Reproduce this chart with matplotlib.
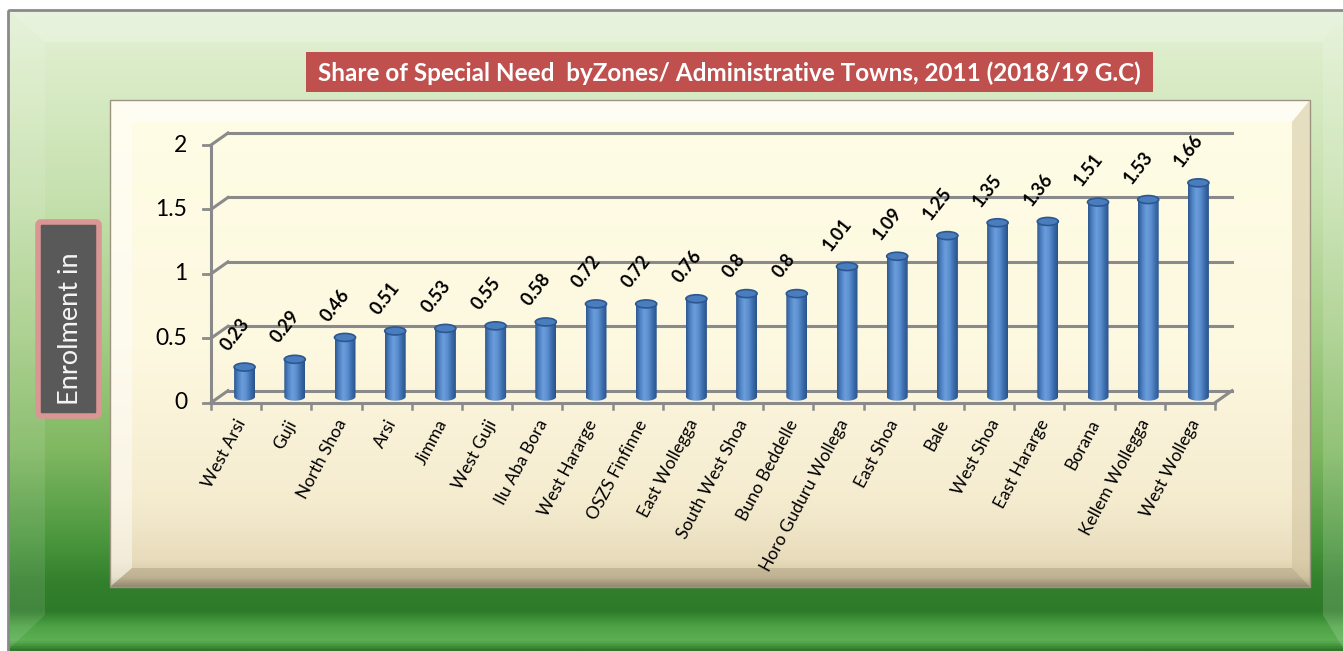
import matplotlib.pyplot as plt
import numpy as np
from matplotlib.patches import Rectangle, Ellipse, Polygon, PathPatch, FancyBboxPatch
from matplotlib.path import Path
from matplotlib.colors import LinearSegmentedColormap

plt.rcParams['font.family'] = ['Lato', 'DejaVu Sans']

# data
zones = ["West Arsi", "Guji", "North Shoa", "Arsi", "Jimma", "West Guji", "Ilu Aba Bora",
         "West Hararge", "OSZS Finfinne", "East Wollegga", "South West Shoa", "Buno Beddelle",
         "Horo Guduru Wollega", "East Shoa", "Bale", "West Shoa", "East Hararge", "Borana",
         "Kellem Wollegga", "West Wollega"]
share = [0.23, 0.29, 0.46, 0.51, 0.53, 0.55, 0.58, 0.72, 0.72, 0.76, 0.8, 0.8,
         1.01, 1.09, 1.25, 1.35, 1.36, 1.51, 1.53, 1.66]
y_ticks = [0, 0.5, 1, 1.5, 2]
y_tick_labels = ["0", "0.5", "1", "1.5", "2"]
title = "Share of Special Need  byZones/ Administrative Towns, 2011 (2018/19 G.C)"
y_label = "Enrolment in"

W, H = 1343, 651
fig = plt.figure(figsize=(W / 100, H / 100), dpi=100)
fig.patch.set_facecolor('white')

# background in pixel coords (y down)
bg = fig.add_axes([0, 0, 1, 1])
bg.set_xlim(0, W)
bg.set_ylim(H, 0)
bg.axis('off')


def vgrad(ax, x0, x1, y0, y1, stops, z):
    # stops given as (pixel y, colour)
    stops = [((y - y0) / (y1 - y0), c) for y, c in stops]
    cmap = LinearSegmentedColormap.from_list('g', stops)
    grad = np.linspace(0, 1, 512).reshape(-1, 1)
    ax.imshow(grad, cmap=cmap, extent=[x0, x1, y1, y0], aspect='auto',
              zorder=z, interpolation='bilinear')


# green frame
green = [(10, '#e4f1d8'), (60, '#dcedca'), (200, '#c5e0ad'), (330, '#a6ce88'),
         (450, '#80b861'), (540, '#4b973e'), (585, '#327f2c'), (612, '#2d7a29'),
         (628, '#4fa446'), (642, '#5cb053'), (651, '#2f7a2a')]
vgrad(bg, 8, W + 5, 10, H, green, 0)
bg.add_patch(Rectangle((8, 10), W, H, fill=False, ec='#8a8a8a', lw=2, zorder=1))
# frame bevels
bg.add_patch(Polygon([(10, 12), (W, 12), (W - 20, 42), (45, 42)], fc='white', alpha=0.2, lw=0, zorder=1))
bg.add_patch(Polygon([(10, 12), (45, 42), (45, 615), (10, 648)], fc='white', alpha=0.1, lw=0, zorder=1))
bg.add_patch(Polygon([(W, 12), (W - 20, 42), (W - 20, 615), (W, 648)], fc='white', alpha=0.15, lw=0, zorder=1))

# cream panel
cream = [(100, '#fffde6'), (350, '#fdf8e0'), (500, '#f5ecd0'), (560, '#e8dcbc'),
         (578, '#d6c9a6'), (587, '#9c9178')]
vgrad(bg, 110, 1310, 100, 587, cream, 2)
bg.add_patch(Polygon([(110, 100), (1310, 100), (1290, 122), (132, 122)], fc='white', alpha=0.6, lw=0, zorder=3))
bg.add_patch(Polygon([(110, 100), (132, 122), (132, 568), (110, 587)], fc='white', alpha=0.45, lw=0, zorder=3))
bg.add_patch(Polygon([(1310, 100), (1310, 587), (1292, 568), (1292, 122)], fc='#c9bb94', alpha=0.45, lw=0, zorder=3))
bg.add_patch(Polygon([(110, 587), (132, 568), (1292, 568), (1310, 587)], fc='#8c8068', alpha=0.3, lw=0, zorder=3))
bg.add_patch(Rectangle((110, 100), 1200, 487, fill=False, ec='#9c9480', lw=1, zorder=3))

# title box
bg.add_patch(Rectangle((306, 52), 847, 40, fc='#c0504d', ec='none', zorder=4))
bg.text(729, 73, title, color='white', fontweight='bold', fontsize=17.5,
        ha='center', va='center', zorder=5)

# y label box
bg.add_patch(FancyBboxPatch((38, 222), 61, 194, boxstyle='round,pad=0,rounding_size=3',
                            fc='#595959', ec='#d99694', lw=4, zorder=4))
bg.text(70, 329, y_label, color='#f4f4f4', fontsize=19.5, rotation=90,
        ha='center', va='center', zorder=5)

# chart axes: front plane of the 3d box
left_px, right_px, zero_px, top_px = 211, 1215, 402.7, 145
ax = fig.add_axes([left_px / W, (H - zero_px) / H, (right_px - left_px) / W, (zero_px - top_px) / H])
ax.axis('off')
ax.patch.set_alpha(0)
n = len(zones)
ux = (right_px - left_px) / n          # pixels per category
uy = (zero_px - top_px) / 2.0          # pixels per unit
dx, dy = 17 / ux, 12 / uy              # depth offset
gcol = '#8a8a8a'
x0, x1 = -0.5, n - 0.5

for t in y_ticks:
    ax.plot([x0 + dx, x1 + dx], [t + dy, t + dy], color=gcol, lw=2.2, zorder=1, clip_on=False)
    ax.plot([x0, x0 + dx], [t, t + dy], color=gcol, lw=2.2, zorder=1, clip_on=False)
    ax.plot([x0 - 8 / ux, x0], [t, t], color=gcol, lw=2, zorder=1, clip_on=False)
ax.plot([x0, x0], [0, 2], color=gcol, lw=2.2, zorder=1, clip_on=False)
ax.plot([x0, x1], [0, 0], color=gcol, lw=2.2, zorder=1, clip_on=False)
ax.plot([x1, x1 + dx], [0, dy], color=gcol, lw=2.2, zorder=1, clip_on=False)
for k in range(n + 1):
    ax.plot([k - 0.5, k - 0.5], [0, -6 / uy], color=gcol, lw=1.8, zorder=1, clip_on=False)

for t, lab in zip(y_ticks, y_tick_labels):
    ax.annotate(lab, xy=(x0, t), xytext=(-24, 0), textcoords='offset pixels',
                ha='right', va='center', fontsize=16.5, annotation_clip=False)

# cylinders
bw = 21 / ux
eh = 8 / uy
body = LinearSegmentedColormap.from_list('b', ['#2d5891', '#4f83c4', '#6c9edc', '#5b8ecf', '#3c6dac', '#2a528a'])
hgrad = np.linspace(0, 1, 64).reshape(1, -1)
tt = np.linspace(np.pi, 2 * np.pi, 30)
for i, v in enumerate(share):
    xc = i + dx / 2
    yb = dy / 2
    yt = v + dy / 2
    xl, xr = xc - bw / 2, xc + bw / 2
    verts = [(xl, yt), (xl, yb)] + [(xc + bw / 2 * np.cos(a), yb + eh / 2 * np.sin(a)) for a in tt] + [(xr, yt), (xl, yt)]
    clip = PathPatch(Path(verts), transform=ax.transData, fc='none', ec='none')
    ax.add_patch(clip)
    im = ax.imshow(hgrad, cmap=body, extent=[xl, xr, yb - eh / 2, yt], aspect='auto',
                   zorder=3, interpolation='bilinear')
    im.set_clip_path(clip)
    ax.add_patch(Ellipse((xc, yt), bw, eh, fc='#4a7dbd', ec='#2c5790', lw=1.2, zorder=4))
    ax.annotate(f"{v:g}", xy=(xc, yt), xytext=(-14, 13), textcoords='offset pixels',
                rotation=52, rotation_mode='anchor', ha='left', va='bottom',
                fontsize=13, fontweight='bold', annotation_clip=False, zorder=5)

for i, name in enumerate(zones):
    ax.annotate(name, xy=(i + 0.12, 0), xytext=(0, -18), textcoords='offset pixels',
                rotation=62, rotation_mode='anchor', ha='right', va='center',
                fontsize=12.5, annotation_clip=False)

ax.set_xlim(x0, x1)
ax.set_ylim(0, 2)

fig.savefig('out.png', dpi=100)
